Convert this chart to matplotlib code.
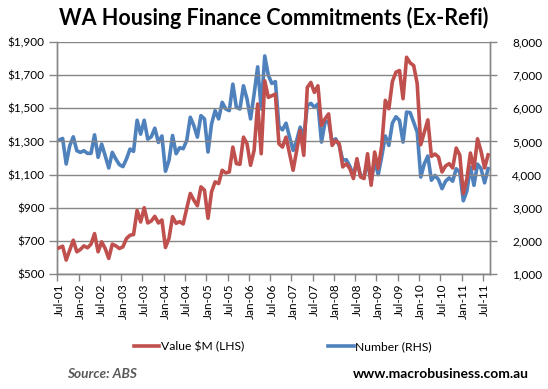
import pandas as pd
import numpy as np
import matplotlib
matplotlib.use('Agg')
import matplotlib.pyplot as plt
from matplotlib.ticker import FixedLocator

plt.rcParams['font.family'] = ['Lato', 'DejaVu Sans']

# monthly categories, Jul-01 .. Aug-11
months = pd.date_range('2001-07-01', periods=122, freq='MS')

# Value of commitments, $M (left axis)
value_m = [658, 668, 584, 644, 704, 634, 648, 670, 658, 680,
           744, 634, 694, 654, 594, 680, 670, 654, 664, 714,
           734, 738, 884, 814, 900, 808, 820, 848, 808, 826,
           660, 716, 846, 806, 816, 802, 896, 986, 946, 912,
           1026, 1006, 836, 996, 1056, 1046, 1126, 1110, 1116, 1266,
           1166, 1162, 1326, 1286, 1156, 1246, 1526, 1226, 1666, 1566,
           1576, 1586, 1286, 1266, 1326, 1226, 1126, 1246, 1366, 1216,
           1626, 1656, 1596, 1636, 1396, 1436, 1466, 1276, 1306, 1286,
           1146, 1166, 1136, 1076, 1196, 1086, 1076, 1226, 1036, 1236,
           1136, 1276, 1548, 1497, 1662, 1718, 1728, 1558, 1808, 1774,
           1758, 1648, 1280, 1356, 1430, 1210, 1224, 1206, 1116, 1152,
           1166, 1140, 1260, 1218, 985, 1075, 1230, 1135, 1316, 1240,
           1140, 1219]

# Number of commitments (right axis)
number = [5040, 5090, 4320, 4870, 5140, 4720, 4670, 4720, 4640, 4640,
          5200, 4520, 4920, 4570, 4200, 4670, 4470, 4300, 4240, 4470,
          4770, 4700, 5640, 5220, 5640, 5070, 5140, 5400, 4970, 5165,
          4100, 4430, 5180, 4630, 4810, 4780, 5030, 5730, 5480, 5130,
          5780, 5680, 4680, 5530, 5930, 5680, 6180, 5980, 5930, 6730,
          6030, 5980, 6680, 6280, 5680, 6430, 7250, 5980, 7580, 7000,
          6750, 6805, 5445, 5350, 5550, 5130, 4730, 5030, 5430, 5130,
          6080, 6150, 6030, 6130, 4980, 5580, 5610, 4980, 5080, 4880,
          4430, 4450, 4250, 3980, 4400, 3980, 3950, 4380, 3780, 4430,
          4000, 4550, 5165, 4880, 5555, 5745, 5635, 4980, 5885, 5870,
          5580, 5280, 3925, 4325, 4560, 3830, 3975, 3850, 3575, 3800,
          3900, 3800, 4175, 4075, 3210, 3500, 4230, 3675, 4315, 4180,
          3750, 4180]

left_ticks = [500, 700, 900, 1100, 1300, 1500, 1700, 1900]
right_ticks = [1000, 2000, 3000, 4000, 5000, 6000, 7000, 8000]

red = '#C0504D'
blue = '#4F81BD'
grey = '#868686'

x = np.arange(len(months))
tick_pos = x[::6]
tick_labels = [d.strftime('%b-%y') for d in months[::6]]

fig = plt.figure(figsize=(5.48, 3.89), dpi=100)
ax = fig.add_axes([0.1046, 0.2956, 0.7894, 0.5964])
ax2 = ax.twinx()

l1, = ax.plot(x, value_m, color=red, lw=2.6, label='Value $M (LHS)', zorder=3)
l2, = ax2.plot(x, number, color=blue, lw=2.6, label='Number (RHS)', zorder=3)

ax.set_xlim(-0.5, len(x) - 0.5)
ax.set_ylim(500, 1900)
ax2.set_ylim(1000, 8000)
ax.set_yticks(left_ticks)
ax.set_yticklabels(['${:,}'.format(v) for v in left_ticks])
ax2.set_yticks(right_ticks)
ax2.set_yticklabels(['{:,}'.format(v) for v in right_ticks])

# labels sit on the categories, tick marks fall between them
ax.set_xticks(tick_pos)
ax.set_xticklabels(tick_labels, rotation=90)
ax.xaxis.set_minor_locator(FixedLocator(list(tick_pos - 0.5)))
ax.tick_params(axis='x', which='major', length=0, pad=7, labelsize=8.5)
ax.tick_params(axis='x', which='minor', length=5, width=1, color=grey)
ax.tick_params(axis='y', length=6, width=1, color=grey, pad=3, labelsize=8.5)
ax2.tick_params(axis='y', length=5, width=1, color=grey, pad=11, labelsize=8.5)

ax.grid(axis='y', color=grey, lw=1)
ax.set_axisbelow(True)
for a in (ax, ax2):
    a.spines['top'].set_visible(False)
    for s in ('left', 'right', 'bottom'):
        a.spines[s].set_color(grey)
        a.spines[s].set_linewidth(1)
ax.set_zorder(ax2.get_zorder() + 1)
ax.patch.set_visible(False)

fig.text(0.5, 0.955, 'WA Housing Finance Commitments (Ex-Refi)', ha='center', va='center',
         fontsize=15.5, fontweight='bold')

fig.legend(handles=[l1, l2], loc='center', bbox_to_anchor=(0.516, 0.11), ncol=2,
           frameon=False, fontsize=8.7, handlelength=2.1, handletextpad=0.1,
           columnspacing=7)

fig.text(0.122, 0.023, 'Source: ABS', fontsize=9.8, fontweight='bold', style='italic',
         color='#595959', va='bottom')
fig.text(0.966, 0.023, 'www.macrobusiness.com.au', fontsize=10, fontweight='bold',
         ha='right', va='bottom')

fig.savefig('out.png', dpi=100)
